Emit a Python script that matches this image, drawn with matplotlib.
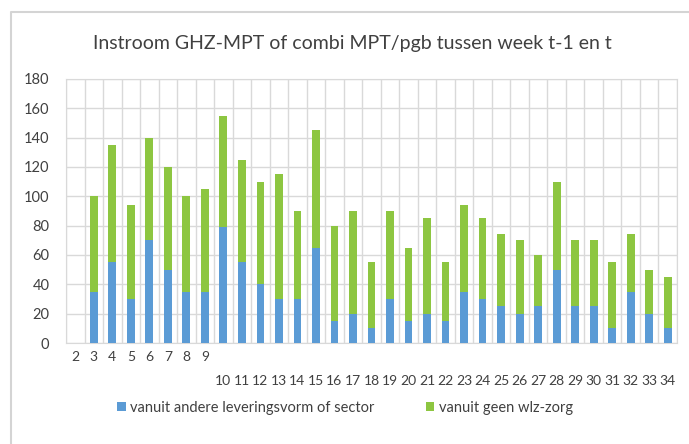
import matplotlib.pyplot as plt
import numpy as np
from matplotlib.lines import Line2D

weeks = list(range(2, 35))
# blue: vanuit andere leveringsvorm of sector
blue = [0, 35, 55, 30, 70, 50, 35, 35, 79, 55, 40, 30, 30, 65, 15, 20, 10,
        30, 15, 20, 15, 35, 30, 25, 20, 25, 50, 25, 25, 10, 35, 20, 10]
# green: vanuit geen wlz-zorg
green = [0, 65, 80, 64, 70, 70, 65, 70, 76, 70, 70, 85, 60, 80, 65, 70, 45,
         60, 50, 65, 40, 59, 55, 49, 50, 35, 60, 45, 45, 45, 39, 30, 35]

title = "Instroom GHZ-MPT of combi MPT/pgb tussen week t-1 en t"
legend_labels = ["vanuit andere leveringsvorm of sector", "vanuit geen wlz-zorg"]

c_blue = "#5b9bd5"
c_green = "#8dc641"
grid_c = "#d9d9d9"
txt_c = "#404040"

plt.rcParams['font.family'] = ['Lato', 'DejaVu Sans']

fig = plt.figure(figsize=(6.89, 4.44), dpi=100, facecolor='white')
W, H = 689.0, 444.0

# outer chart border
fig.add_artist(Line2D([11/W, 11/W, 1.0], [0.0, 1-12/H, 1-12/H],
                      transform=fig.transFigure, color='#d4d4d4', lw=1.5))

ax = fig.add_axes([66/W, 1-343/H, (677-66)/W, (343-79)/H])
x = np.arange(len(weeks))
ax.bar(x, blue, width=0.42, color=c_blue, zorder=3, label=legend_labels[0])
ax.bar(x, green, width=0.42, bottom=blue, color=c_green, zorder=3, label=legend_labels[1])

ax.set_xlim(-0.5, len(weeks)-0.5)
ax.set_ylim(0, 180)
ax.set_yticks(range(0, 181, 20))
ax.set_xticks(x)
ax.set_xticklabels([str(w) if w < 10 else "\n" + str(w) for w in weeks])
for lab in ax.get_xticklabels():
    lab.set_linespacing(2.2)
ax.set_xticks(np.arange(-0.5, len(weeks)), minor=True)
ax.grid(True, which='minor', axis='x', color=grid_c, lw=1, zorder=0)
ax.grid(True, which='major', axis='y', color=grid_c, lw=1, zorder=0)
ax.tick_params(axis='both', which='both', length=0, labelcolor=txt_c)
ax.tick_params(axis='y', labelsize=10.5, pad=12)
ax.tick_params(axis='x', labelsize=10, pad=6)
for s in ax.spines.values():
    s.set_color(grid_c)

fig.text(352/W, 1-44/H, title, ha='center', va='center', fontsize=14, color=txt_c)

fig.legend(loc='center', bbox_to_anchor=(345/W, 1-408/H), ncol=2, frameon=False,
           fontsize=10.5, handlelength=0.6, handleheight=0.6, handletextpad=0.3,
           columnspacing=3.5, labelcolor=txt_c)

fig.savefig("out.png", dpi=100)
